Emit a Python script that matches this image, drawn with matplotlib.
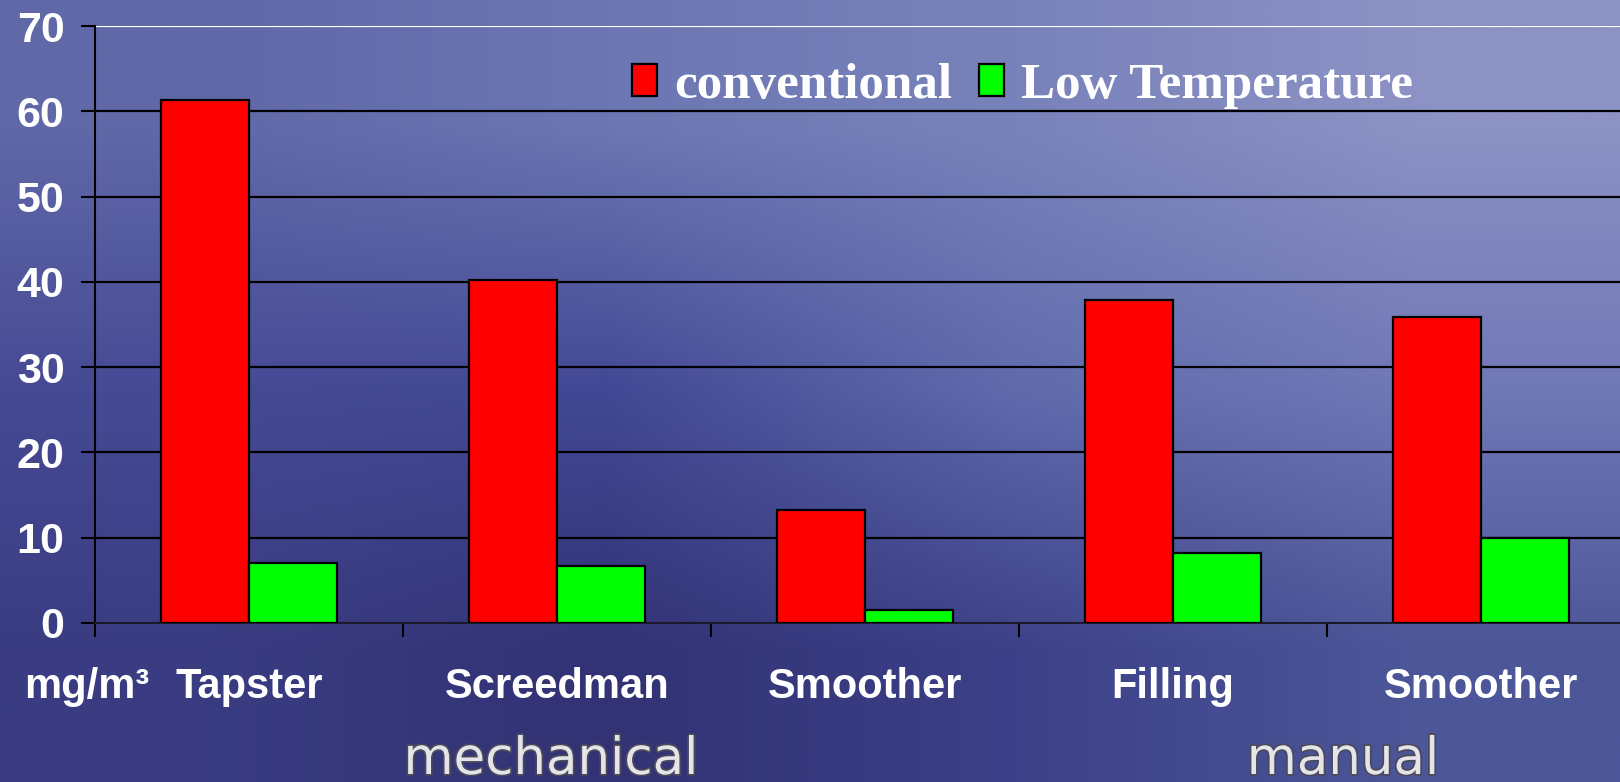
import numpy as np
import matplotlib
matplotlib.use('Agg')
import matplotlib.pyplot as plt
import matplotlib.patheffects as pe
from matplotlib.font_manager import FontProperties
from matplotlib.transforms import blended_transform_factory

# ---- data ----
categories = ['Tapster', 'Screedman', 'Smoother', 'Filling', 'Smoother']
conventional = [61.3, 40.2, 13.3, 37.9, 35.9]
low_temperature = [7.0, 6.7, 1.5, 8.2, 10.0]
y_ticks = [0, 10, 20, 30, 40, 50, 60, 70]
series_names = ['conventional', 'Low Temperature']
unit_label = 'mg/m³'
group_labels = ['mechanical', 'manual']

W, H = 1620, 782
fig = plt.figure(figsize=(W / 100, H / 100), dpi=100)

# background gradient
bg = fig.add_axes([0, 0, 1, 1], zorder=-10)
grid = np.array([
    [(96, 104, 168), (108, 118, 178), (120, 130, 186), (140, 146, 196)],
    [(70, 74, 148), (66, 72, 148), (96, 106, 172), (112, 120, 182)],
    [(58, 60, 130), (50, 50, 116), (60, 64, 136), (76, 86, 152)],
]) / 255.0
bg.imshow(grid, aspect='auto', interpolation='bilinear', extent=[0, 1, 0, 1])
bg.set_xlim(0, 1)
bg.set_ylim(0, 1)
bg.axis('off')

ax = fig.add_axes([95 / W, 159 / H, 1540 / W, 597 / H])
ax.patch.set_alpha(0)

x = np.arange(len(categories))
w = 0.286
b1 = ax.bar(x - w / 2, conventional, w, color='#ff0000', edgecolor='black',
            linewidth=1.6, zorder=3, label=series_names[0])
b2 = ax.bar(x + w / 2, low_temperature, w, color='#00ff00', edgecolor='black',
            linewidth=1.6, zorder=3, label=series_names[1])

ax.set_xlim(-0.5, len(categories) - 0.5)
ax.set_ylim(0, 70)
for v in y_ticks[1:-1]:
    ax.axhline(v, color='black', lw=1.6, zorder=1)
ax.axhline(y_ticks[-1], color='white', lw=1.6, zorder=1)

for s in ['top', 'right']:
    ax.spines[s].set_visible(False)
ax.spines['left'].set_color('black')
ax.spines['left'].set_linewidth(1.5)
ax.spines['bottom'].set_color('#1a1a2a')
ax.spines['bottom'].set_linewidth(1.5)

ax.set_yticks(y_ticks)
ax.set_yticklabels([str(v) for v in y_ticks])
ax.tick_params(axis='y', direction='out', length=10, width=1.5, color='black',
               pad=12, labelcolor='white', labelsize=31)
for t in ax.get_yticklabels():
    t.set_fontfamily('Liberation Sans')
    t.set_fontweight('bold')

ax.set_xticks(np.arange(-0.5, len(categories), 1.0))
ax.set_xticklabels([])
ax.tick_params(axis='x', direction='out', length=10, width=1.5, color='black')

trans = blended_transform_factory(ax.transData, ax.transAxes)
for i, c in enumerate(categories):
    ax.text(i, -0.107, c, transform=trans, ha='center', va='center',
            color='white', fontsize=30, fontweight='bold',
            family='Liberation Sans')

fig.text(87 / W, 1 - 687 / H, unit_label, ha='center', va='center',
         color='white', fontsize=30, fontweight='bold', family='Liberation Sans')

for xpx, lab in zip([551, 1343], group_labels):
    fig.text(xpx / W, 8 / H, lab, ha='center', va='baseline',
             color='#e4e4ea', fontsize=37, family='DejaVu Sans',
             path_effects=[pe.withStroke(linewidth=2.5, foreground='#4a4a5a')])

leg = ax.legend(handles=[b1, b2], loc='center left',
                bbox_to_anchor=(632 / W, 1 - 86 / H), bbox_transform=fig.transFigure,
                ncol=2, frameon=False,
                prop=FontProperties(family='Liberation Serif', weight='bold', size=36.7),
                labelcolor='white', handlelength=0.49, handleheight=0.57,
                handletextpad=0.33, columnspacing=0.53, borderpad=0, borderaxespad=0)

fig.savefig('out.png', dpi=100)
